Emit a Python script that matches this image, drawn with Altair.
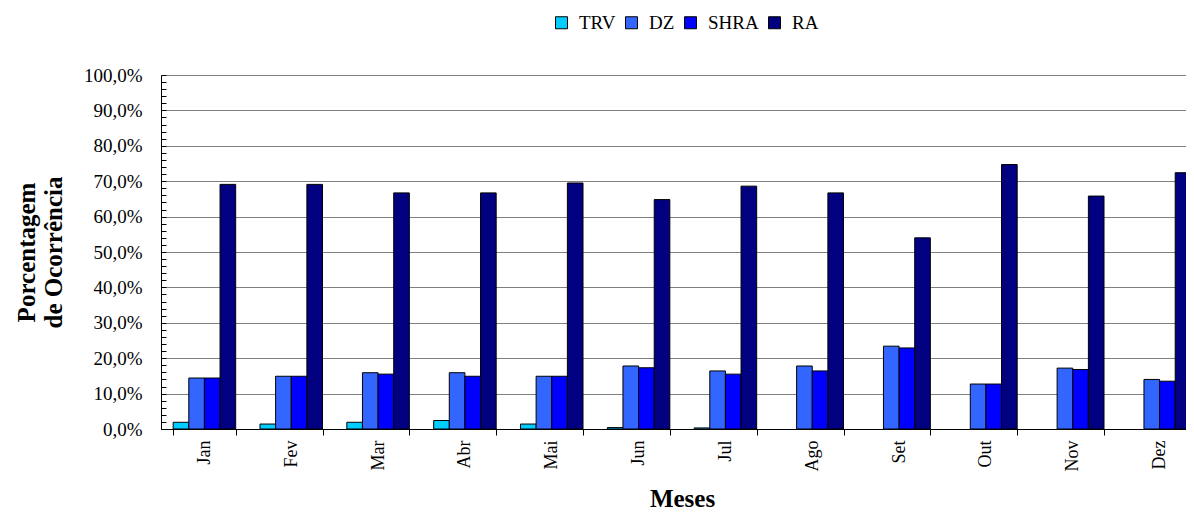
import altair as alt
import pandas as pd

months = ["Jan", "Fev", "Mar", "Abr", "Mai", "Jun", "Jul", "Ago", "Set", "Out", "Nov", "Dez"]
series = ["TRV", "DZ", "SHRA", "RA"]
colors = ["#00CCFF", "#3366FF", "#0000FF", "#000080"]

trv = [1.9, 1.4, 1.9, 2.4, 1.4, 0.4, 0.3, 0.0, 0.0, 0.0, 0.0, 0.0]
dz = [14.4, 14.9, 15.9, 15.9, 14.9, 17.8, 16.4, 17.8, 23.4, 12.7, 17.2, 14.0]
shra = [14.4, 14.9, 15.5, 14.9, 14.9, 17.3, 15.5, 16.4, 22.9, 12.7, 16.8, 13.5]
ra = [69.1, 69.1, 66.7, 66.7, 69.5, 64.8, 68.6, 66.7, 54.0, 74.7, 65.8, 72.4]

y_ticks = list(range(0, 101, 2))

rows = []
for s, vals in zip(series, [trv, dz, shra, ra]):
    for m, v in zip(months, vals):
        rows.append({"Mes": m, "Tipo": s, "Valor": v})
df = pd.DataFrame(rows)

font = "Liberation Serif"

chart = alt.Chart(df).mark_bar(stroke="black", strokeWidth=1).encode(
    x=alt.X(
        "Mes:N", sort=months,
        scale=alt.Scale(paddingInner=0.28, paddingOuter=0.14, range=[0, 1042]),
        axis=alt.Axis(
            title="Meses", labelAngle=-90, tickBand="extent", tickSize=6,
            tickColor="black", domainColor="black", labelColor="black",
            labelFont=font, labelFontSize=18, labelPadding=5,
            titleFont=font, titleFontSize=25, titleFontWeight="bold",
            titleColor="black", titleX=521, titleY=77, titleBaseline="alphabetic",
            grid=False,
        ),
    ),
    xOffset=alt.XOffset("Tipo:N", sort=series,
                        scale=alt.Scale(domain=series, paddingInner=0, paddingOuter=0)),
    y=alt.Y(
        "Valor:Q",
        scale=alt.Scale(domain=[0, 100], nice=False),
        axis=alt.Axis(
            values=y_ticks,
            title=["Porcentagem", "de Ocorrência"],
            labelExpr="datum.value % 10 === 0 ? replace(format(datum.value, '.1f'), '.', ',') + '%' : ''",
            labelOverlap=False,
            grid=True,
            gridColor="#808080",
            gridOpacity={"condition": {"test": "datum.value % 10 === 0", "value": 1}, "value": 0},
            tickSize=alt.ExprRef(expr="-5"),
            tickColor="black", domainColor="black", labelColor="black",
            labelFont=font, labelFontSize=19, labelPadding=24,
            titleFont=font, titleFontSize=25, titleFontWeight="bold", titleColor="black",
            titleAngle=-90, titleX=-135, titleY=177, titleAlign="center",
            titleBaseline="middle", titleLineHeight=27,
        ),
    ),
    color=alt.Color(
        "Tipo:N", sort=series,
        scale=alt.Scale(domain=series, range=colors),
        legend=alt.Legend(
            title=None, orient="none", direction="horizontal", columns=4,
            legendX=391, legendY=-62,
            symbolType="square", symbolSize=144, symbolStrokeColor="black",
            symbolStrokeWidth=1, symbolOpacity=1,
            labelFont=font, labelFontSize=19, labelColor="black",
            labelOffset=8, columnPadding=6,
        ),
    ),
).transform_filter(
    "datum.Valor > 0"
).properties(
    width=1025, height=354,
    autosize=alt.AutoSizeParams(type="none"),
    padding={"left": 153, "top": 67, "right": 0, "bottom": 82},
    background="white",
).configure_view(
    strokeWidth=0
).configure_legend(
    labelFont=font, labelFontSize=19, labelColor="black"
)

chart.save("out.html", embed_options={"renderer": "svg", "actions": False})
